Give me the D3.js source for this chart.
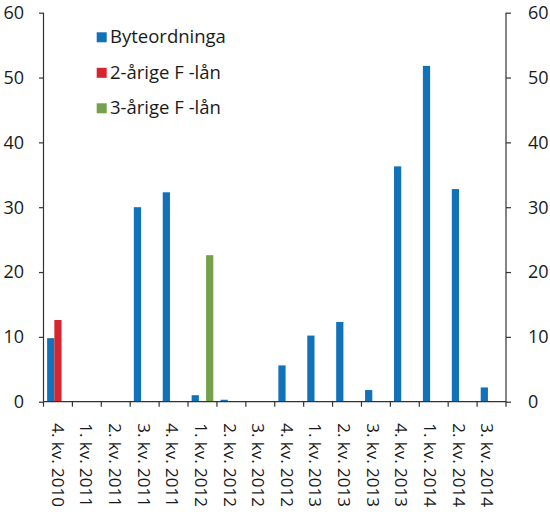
<!DOCTYPE html>
<html>
<head>
<meta charset="utf-8">
<script src="https://cdn.jsdelivr.net/npm/d3@7"></script>
<style>
  html, body { margin: 0; padding: 0; background: #fff; }
  svg { display: block; }
  text { font-family: "Open Sans", "Noto Sans", sans-serif; fill: #1a1a1a; }
</style>
</head>
<body>
<svg id="chart" width="550" height="516"></svg>
<script>
const categories = ["4. kv. 2010","1. kv. 2011","2. kv. 2011","3. kv. 2011","4. kv. 2011",
  "1. kv. 2012","2. kv. 2012","3. kv. 2012","4. kv. 2012","1. kv. 2013","2. kv. 2013",
  "3. kv. 2013","4. kv. 2013","1. kv. 2014","2. kv. 2014","3. kv. 2014"];
const seriesNames = ["Byteordninga", "2-årige F -lån", "3-årige F -lån"];
const byteordninga = [9.8, 0, 0, 30.0, 32.3, 1.0, 0.3, 0, 5.6, 10.2, 12.3, 1.8, 36.3, 51.8, 32.8, 2.2];
const toaarige     = [12.6, 0, 0, 0, 0, 0, 0, 0, 0, 0, 0, 0, 0, 0, 0, 0];
const treaarige    = [0, 0, 0, 0, 0, 22.6, 0, 0, 0, 0, 0, 0, 0, 0, 0, 0];
const yTicks = [0, 10, 20, 30, 40, 50, 60];
const colors = ["#1172ba", "#d6252f", "#77a04b"];

const seriesValues = [byteordninga, toaarige, treaarige];

const svg = d3.select("#chart");
const mLeft = 43.5, mRight = 506, mTop = 12.7, mBottom = 401.7;

const x0 = d3.scaleBand().domain(categories).range([mLeft, mRight]).paddingInner(0).paddingOuter(0);
const x1 = d3.scaleBand().domain(seriesNames).range([0, x0.bandwidth()]).paddingOuter(0.5).paddingInner(0);
const xl = d3.scaleBand().domain(categories).range([mLeft, mRight - 4.5]);
const y = d3.scaleLinear().domain([0, 60]).range([mBottom, mTop]);

// bars
seriesNames.forEach((s, si) => {
  svg.append("g").selectAll("rect")
    .data(categories.map((c, i) => ({c, v: seriesValues[si][i]})).filter(d => d.v > 0))
    .join("rect")
    .attr("x", d => x0(d.c) + x1(s))
    .attr("width", x1.bandwidth())
    .attr("y", d => y(d.v))
    .attr("height", d => y(0) - y(d.v))
    .attr("fill", colors[si]);
});

const axisColor = "#333";

// left axis
const gl = svg.append("g").attr("transform", `translate(${mLeft},0)`)
  .call(d3.axisLeft(y).tickValues(yTicks).tickSize(4.5).tickPadding(15).tickFormat(d3.format("d")));
// right axis
const gr = svg.append("g").attr("transform", `translate(${mRight},0)`)
  .call(d3.axisRight(y).tickValues(yTicks).tickSize(5).tickPadding(17).tickFormat(d3.format("d")));
[gl, gr].forEach(g => {
  g.select(".domain").attr("stroke", axisColor).attr("stroke-width", 1.2).attr("d", `M0,${mBottom}V${mTop}`);
  g.selectAll(".tick line").attr("stroke", axisColor).attr("stroke-width", 1.2);
  g.selectAll(".tick text").attr("font-size", 18).attr("fill", "#1a1a1a").attr("dy", "0.33em")
    .style("font-family", '"Open Sans", "Noto Sans", sans-serif');
});

// x axis line with ticks at band boundaries
const gx = svg.append("g");
gx.append("line").attr("x1", mLeft).attr("x2", mRight).attr("y1", mBottom).attr("y2", mBottom)
  .attr("stroke", axisColor).attr("stroke-width", 1.2);
const boundaries = categories.map(c => x0(c)).concat([mRight]);
gx.selectAll("line.tk").data(boundaries).join("line").attr("class", "tk")
  .attr("x1", d => d).attr("x2", d => d).attr("y1", mBottom).attr("y2", mBottom + 5)
  .attr("stroke", axisColor).attr("stroke-width", 1.2);
gx.selectAll("text").data(categories).join("text")
  .attr("transform", d => `translate(${xl(d) + xl.bandwidth() / 2},${mBottom + 21.5}) rotate(90)`)
  .attr("dy", "0.35em")
  .attr("font-size", 17)
  .text(d => d);

// legend
const lg = svg.append("g");
seriesNames.forEach((s, i) => {
  const yy = 32.3 + i * 35.5;
  lg.append("rect").attr("x", 96.7).attr("y", yy).attr("width", 10).attr("height", 10).attr("fill", colors[i]);
  lg.append("text").attr("x", 110).attr("y", yy + 11).attr("font-size", 18.5).text(s);
});
</script>
</body>
</html>
